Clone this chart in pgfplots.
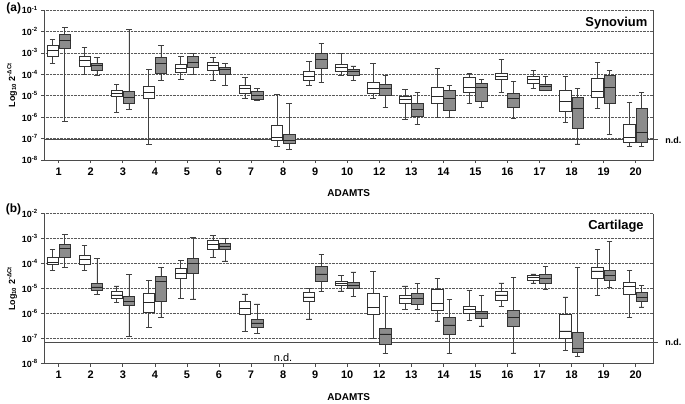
\documentclass[border=0pt]{standalone}
\usepackage{pgfplots}
\pgfplotsset{compat=1.18}
\usepgfplotslibrary{statistics}
\usepackage{fontspec}
\setmainfont{Liberation Sans}
\definecolor{boxgray}{RGB}{140,140,140}
\definecolor{framec}{RGB}{75,75,75}
\pgfplotsset{
  boxplot/draw direction=y,
  boxplot/box extend=0.36, boxplot/whisker extend=0.17,
  boxplot/every box/.style={draw=black!80, line width=0.7pt},
  boxplot/every whisker/.style={black!75, line width=0.7pt},
  boxplot/every median/.style={black!85, line width=0.9pt},
  wb/.style={draw=black!80, fill=white},
  gb/.style={draw=black!80, fill=boxgray},
}
\begin{document}
\begin{tikzpicture}
\useasboundingbox (-44.3bp,-244bp) rectangle (640.7bp,160bp);
% ---------------- panel (a): values are log10 of 2^-dCt
\begin{axis}[ymin=-8, ymax=-1,
    scale only axis, width=609bp, height=150bp,
    at={(0bp,0bp)}, anchor=south west,
    xmin=0.55, xmax=19.55,
    axis line style={draw=none},
    clip=false,
    xtick={1,...,19},
    xticklabels={1,2,3,4,5,6,7,8,9,10,12,13,14,15,16,17,18,19,20},
    xtick pos=bottom, ytick pos=left, tick align=outside,
    major tick length=3bp,
    tick style={framec, line width=0.7pt},
    x tick label style={font=\bfseries\fontsize{11}{12}\selectfont, yshift=-1bp},
    y tick label style={font=\bfseries\fontsize{9}{10}\selectfont},
    ymajorgrids, major grid style={densely dotted, black!65, line width=0.7pt},
    xlabel={ADAMTS}, xlabel style={font=\bfseries\fontsize{10}{12}\selectfont, at={(axis description cs:0.5,-0.22)}, anchor=center},
    ylabel={Log\textsubscript{10} 2\textsuperscript{-ΔCt}},
    ylabel style={font=\bfseries\fontsize{9}{10}\selectfont, at={(axis description cs:-0.053,0.5)}, anchor=center},
  ytick={-8,-7,-6,-5,-4,-3,-2,-1},
  yticklabels={10\textsuperscript{-8},10\textsuperscript{-7},10\textsuperscript{-6},10\textsuperscript{-5},10\textsuperscript{-4},10\textsuperscript{-3},10\textsuperscript{-2},10\textsuperscript{-1}}]
\draw[framec, line width=0.9pt] (axis cs:0.55,-7.06) -- (axis cs:19.7,-7.06);
\node[anchor=west, font=\bfseries\fontsize{9}{10}\selectfont] at (axis cs:19.82,-7.06) {n.d.};
\draw[framec, line width=1pt] (axis cs:0.55,-1) -- (axis cs:0.55,-8) -- (axis cs:19.55,-8) -- (axis cs:19.55,-1);
\addplot[wb, boxplot prepared={draw position=0.81, upper whisker=-2.37, upper quartile=-2.63, median=-2.87, lower quartile=-3.15, lower whisker=-3.49}] coordinates {};
\addplot[gb, boxplot prepared={draw position=1.19, upper whisker=-1.81, upper quartile=-2.14, median=-2.40, lower quartile=-2.79, lower whisker=-6.18}] coordinates {};
\addplot[wb, boxplot prepared={draw position=1.81, upper whisker=-2.76, upper quartile=-3.18, median=-3.36, lower quartile=-3.61, lower whisker=-4.02}] coordinates {};
\addplot[gb, boxplot prepared={draw position=2.19, upper whisker=-3.22, upper quartile=-3.49, median=-3.61, lower quartile=-3.83, lower whisker=-4.05}] coordinates {};
\addplot[wb, boxplot prepared={draw position=2.81, upper whisker=-4.47, upper quartile=-4.73, median=-4.90, lower quartile=-5.04, lower whisker=-5.77}] coordinates {};
\addplot[gb, boxplot prepared={draw position=3.19, upper whisker=-1.90, upper quartile=-4.81, median=-5.09, lower quartile=-5.34, lower whisker=-5.65}] coordinates {};
\addplot[wb, boxplot prepared={draw position=3.81, upper whisker=-3.77, upper quartile=-4.58, median=-4.84, lower quartile=-5.12, lower whisker=-7.27}] coordinates {};
\addplot[gb, boxplot prepared={draw position=4.19, upper whisker=-2.66, upper quartile=-3.21, median=-3.49, lower quartile=-3.95, lower whisker=-4.30}] coordinates {};
\addplot[wb, boxplot prepared={draw position=4.81, upper whisker=-3.18, upper quartile=-3.53, median=-3.75, lower quartile=-3.92, lower whisker=-4.22}] coordinates {};
\addplot[gb, boxplot prepared={draw position=5.19, upper whisker=-3.02, upper quartile=-3.18, median=-3.46, lower quartile=-3.67, lower whisker=-3.99}] coordinates {};
\addplot[wb, boxplot prepared={draw position=5.81, upper whisker=-3.22, upper quartile=-3.45, median=-3.60, lower quartile=-3.80, lower whisker=-4.28}] coordinates {};
\addplot[gb, boxplot prepared={draw position=6.19, upper whisker=-3.50, upper quartile=-3.66, median=-3.77, lower quartile=-3.99, lower whisker=-4.53}] coordinates {};
\addplot[wb, boxplot prepared={draw position=6.81, upper whisker=-4.14, upper quartile=-4.50, median=-4.67, lower quartile=-4.87, lower whisker=-5.14}] coordinates {};
\addplot[gb, boxplot prepared={draw position=7.19, upper whisker=-4.67, upper quartile=-4.81, median=-4.98, lower quartile=-5.18, lower whisker=-5.20}] coordinates {};
\addplot[wb, boxplot prepared={draw position=7.81, upper whisker=-4.93, upper quartile=-6.38, median=-6.94, lower quartile=-7.10, lower whisker=-7.35}] coordinates {};
\addplot[gb, boxplot prepared={draw position=8.19, upper whisker=-5.34, upper quartile=-6.79, median=-7.07, lower quartile=-7.24, lower whisker=-7.50}] coordinates {};
\addplot[wb, boxplot prepared={draw position=8.81, upper whisker=-3.40, upper quartile=-3.85, median=-4.08, lower quartile=-4.27, lower whisker=-4.53}] coordinates {};
\addplot[gb, boxplot prepared={draw position=9.19, upper whisker=-2.57, upper quartile=-3.04, median=-3.29, lower quartile=-3.72, lower whisker=-4.37}] coordinates {};
\addplot[wb, boxplot prepared={draw position=9.81, upper whisker=-3.02, upper quartile=-3.53, median=-3.69, lower quartile=-3.85, lower whisker=-4.06}] coordinates {};
\addplot[gb, boxplot prepared={draw position=10.19, upper whisker=-3.61, upper quartile=-3.78, median=-3.88, lower quartile=-4.03, lower whisker=-4.30}] coordinates {};
\addplot[wb, boxplot prepared={draw position=10.81, upper whisker=-3.49, upper quartile=-4.37, median=-4.65, lower quartile=-4.90, lower whisker=-5.12}] coordinates {};
\addplot[gb, boxplot prepared={draw position=11.19, upper whisker=-4.05, upper quartile=-4.47, median=-4.65, lower quartile=-5.00, lower whisker=-5.53}] coordinates {};
\addplot[wb, boxplot prepared={draw position=11.81, upper whisker=-4.70, upper quartile=-5.04, median=-5.17, lower quartile=-5.37, lower whisker=-6.09}] coordinates {};
\addplot[gb, boxplot prepared={draw position=12.19, upper whisker=-4.83, upper quartile=-5.34, median=-5.62, lower quartile=-5.95, lower whisker=-6.35}] coordinates {};
\addplot[wb, boxplot prepared={draw position=12.81, upper whisker=-3.72, upper quartile=-4.62, median=-5.04, lower quartile=-5.35, lower whisker=-6.02}] coordinates {};
\addplot[gb, boxplot prepared={draw position=13.19, upper whisker=-4.53, upper quartile=-4.73, median=-5.12, lower quartile=-5.67, lower whisker=-6.01}] coordinates {};
\addplot[wb, boxplot prepared={draw position=13.81, upper whisker=-3.97, upper quartile=-4.16, median=-4.61, lower quartile=-4.84, lower whisker=-5.35}] coordinates {};
\addplot[gb, boxplot prepared={draw position=14.19, upper whisker=-4.22, upper quartile=-4.42, median=-4.61, lower quartile=-5.25, lower whisker=-5.56}] coordinates {};
\addplot[wb, boxplot prepared={draw position=14.81, upper whisker=-3.32, upper quartile=-3.95, median=-4.08, lower quartile=-4.25, lower whisker=-4.84}] coordinates {};
\addplot[gb, boxplot prepared={draw position=15.19, upper whisker=-4.33, upper quartile=-4.90, median=-5.15, lower quartile=-5.54, lower whisker=-6.04}] coordinates {};
\addplot[wb, boxplot prepared={draw position=15.81, upper whisker=-3.80, upper quartile=-4.08, median=-4.23, lower quartile=-4.41, lower whisker=-4.65}] coordinates {};
\addplot[gb, boxplot prepared={draw position=16.19, upper whisker=-4.11, upper quartile=-4.47, median=-4.58, lower quartile=-4.73, lower whisker=-4.74}] coordinates {};
\addplot[wb, boxplot prepared={draw position=16.81, upper whisker=-4.11, upper quartile=-4.75, median=-5.25, lower quartile=-5.73, lower whisker=-6.23}] coordinates {};
\addplot[gb, boxplot prepared={draw position=17.19, upper whisker=-4.67, upper quartile=-5.07, median=-5.59, lower quartile=-6.51, lower whisker=-7.25}] coordinates {};
\addplot[wb, boxplot prepared={draw position=17.81, upper whisker=-3.46, upper quartile=-4.19, median=-4.79, lower quartile=-5.07, lower whisker=-5.59}] coordinates {};
\addplot[gb, boxplot prepared={draw position=18.19, upper whisker=-3.80, upper quartile=-4.05, median=-4.62, lower quartile=-5.35, lower whisker=-6.80}] coordinates {};
\addplot[wb, boxplot prepared={draw position=18.81, upper whisker=-5.32, upper quartile=-6.33, median=-6.97, lower quartile=-7.17, lower whisker=-7.35}] coordinates {};
\addplot[gb, boxplot prepared={draw position=19.19, upper whisker=-4.84, upper quartile=-5.59, median=-6.72, lower quartile=-7.17, lower whisker=-7.35}] coordinates {};
\node[anchor=east, font=\bfseries\fontsize{13}{14}\selectfont] at (axis description cs:0.996,0.913) {Synovium};
\node[anchor=west, font=\bfseries\fontsize{12}{14}\selectfont] at (axis description cs:-0.068,1.013) {(a)};
\end{axis}
% ---------------- panel (b): values are log10 of 2^-dCt
\begin{axis}[ymin=-8, ymax=-2,
    scale only axis, width=609bp, height=150bp,
    at={(0bp,-203.7bp)}, anchor=south west,
    xmin=0.55, xmax=19.55,
    axis line style={draw=none},
    clip=false,
    xtick={1,...,19},
    xticklabels={1,2,3,4,5,6,7,8,9,10,12,13,14,15,16,17,18,19,20},
    xtick pos=bottom, ytick pos=left, tick align=outside,
    major tick length=3bp,
    tick style={framec, line width=0.7pt},
    x tick label style={font=\bfseries\fontsize{11}{12}\selectfont, yshift=-1bp},
    y tick label style={font=\bfseries\fontsize{9}{10}\selectfont},
    ymajorgrids, major grid style={densely dotted, black!65, line width=0.7pt},
    xlabel={ADAMTS}, xlabel style={font=\bfseries\fontsize{10}{12}\selectfont, at={(axis description cs:0.5,-0.22)}, anchor=center},
    ylabel={Log\textsubscript{10} 2\textsuperscript{-ΔCt}},
    ylabel style={font=\bfseries\fontsize{9}{10}\selectfont, at={(axis description cs:-0.053,0.5)}, anchor=center},
  ytick={-8,-7,-6,-5,-4,-3,-2},
  yticklabels={10\textsuperscript{-8},10\textsuperscript{-7},10\textsuperscript{-6},10\textsuperscript{-5},10\textsuperscript{-4},10\textsuperscript{-3},10\textsuperscript{-2}}]
\draw[framec, line width=0.9pt] (axis cs:0.55,-7.16) -- (axis cs:19.7,-7.16);
\node[anchor=west, font=\bfseries\fontsize{9}{10}\selectfont] at (axis cs:19.82,-7.16) {n.d.};
\node[font=\fontsize{11}{12}\selectfont] at (axis cs:8,-7.75) {n.d.};
\draw[framec, line width=1pt] (axis cs:0.55,-2) -- (axis cs:0.55,-8) -- (axis cs:19.55,-8) -- (axis cs:19.55,-2);
\addplot[wb, boxplot prepared={draw position=0.81, upper whisker=-3.42, upper quartile=-3.74, median=-3.96, lower quartile=-4.02, lower whisker=-4.27}] coordinates {};
\addplot[gb, boxplot prepared={draw position=1.19, upper whisker=-2.83, upper quartile=-3.22, median=-3.38, lower quartile=-3.75, lower whisker=-4.14}] coordinates {};
\addplot[wb, boxplot prepared={draw position=1.81, upper whisker=-3.26, upper quartile=-3.66, median=-3.84, lower quartile=-4.02, lower whisker=-4.27}] coordinates {};
\addplot[gb, boxplot prepared={draw position=2.19, upper whisker=-3.79, upper quartile=-4.79, median=-4.93, lower quartile=-5.06, lower whisker=-5.22}] coordinates {};
\addplot[wb, boxplot prepared={draw position=2.81, upper whisker=-4.89, upper quartile=-5.10, median=-5.25, lower quartile=-5.40, lower whisker=-5.56}] coordinates {};
\addplot[gb, boxplot prepared={draw position=3.19, upper whisker=-4.42, upper quartile=-5.30, median=-5.52, lower quartile=-5.68, lower whisker=-6.92}] coordinates {};
\addplot[wb, boxplot prepared={draw position=3.81, upper whisker=-4.66, upper quartile=-5.18, median=-5.54, lower quartile=-5.94, lower whisker=-6.55}] coordinates {};
\addplot[gb, boxplot prepared={draw position=4.19, upper whisker=-4.14, upper quartile=-4.50, median=-4.71, lower quartile=-5.52, lower whisker=-6.14}] coordinates {};
\addplot[wb, boxplot prepared={draw position=4.81, upper whisker=-3.86, upper quartile=-4.19, median=-4.38, lower quartile=-4.58, lower whisker=-5.38}] coordinates {};
\addplot[gb, boxplot prepared={draw position=5.19, upper whisker=-2.95, upper quartile=-3.78, median=-3.98, lower quartile=-4.38, lower whisker=-5.41}] coordinates {};
\addplot[wb, boxplot prepared={draw position=5.81, upper whisker=-2.88, upper quartile=-3.06, median=-3.22, lower quartile=-3.42, lower whisker=-3.76}] coordinates {};
\addplot[gb, boxplot prepared={draw position=6.19, upper whisker=-2.99, upper quartile=-3.19, median=-3.30, lower quartile=-3.44, lower whisker=-3.89}] coordinates {};
\addplot[wb, boxplot prepared={draw position=6.81, upper whisker=-5.21, upper quartile=-5.52, median=-5.80, lower quartile=-6.03, lower whisker=-6.71}] coordinates {};
\addplot[gb, boxplot prepared={draw position=7.19, upper whisker=-5.61, upper quartile=-6.22, median=-6.37, lower quartile=-6.53, lower whisker=-6.79}] coordinates {};
\addplot[wb, boxplot prepared={draw position=8.81, upper whisker=-5.00, upper quartile=-5.14, median=-5.33, lower quartile=-5.50, lower whisker=-6.21}] coordinates {};
\addplot[gb, boxplot prepared={draw position=9.19, upper whisker=-3.63, upper quartile=-4.09, median=-4.41, lower quartile=-4.69, lower whisker=-5.11}] coordinates {};
\addplot[wb, boxplot prepared={draw position=9.81, upper whisker=-4.47, upper quartile=-4.70, median=-4.79, lower quartile=-4.87, lower whisker=-5.09}] coordinates {};
\addplot[gb, boxplot prepared={draw position=10.19, upper whisker=-4.33, upper quartile=-4.75, median=-4.87, lower quartile=-4.98, lower whisker=-5.30}] coordinates {};
\addplot[wb, boxplot prepared={draw position=10.81, upper whisker=-4.30, upper quartile=-5.18, median=-5.76, lower quartile=-6.01, lower whisker=-6.99}] coordinates {};
\addplot[gb, boxplot prepared={draw position=11.19, upper whisker=-5.30, upper quartile=-6.57, median=-6.81, lower quartile=-7.21, lower whisker=-7.59}] coordinates {};
\addplot[wb, boxplot prepared={draw position=11.81, upper whisker=-4.89, upper quartile=-5.26, median=-5.38, lower quartile=-5.57, lower whisker=-5.82}] coordinates {};
\addplot[gb, boxplot prepared={draw position=12.19, upper whisker=-4.79, upper quartile=-5.17, median=-5.38, lower quartile=-5.62, lower whisker=-5.82}] coordinates {};
\addplot[wb, boxplot prepared={draw position=12.81, upper whisker=-4.58, upper quartile=-5.02, median=-5.60, lower quartile=-5.85, lower whisker=-6.29}] coordinates {};
\addplot[gb, boxplot prepared={draw position=13.19, upper whisker=-5.42, upper quartile=-6.16, median=-6.45, lower quartile=-6.83, lower whisker=-7.59}] coordinates {};
\addplot[wb, boxplot prepared={draw position=13.81, upper whisker=-5.07, upper quartile=-5.70, median=-5.84, lower quartile=-5.98, lower whisker=-6.26}] coordinates {};
\addplot[gb, boxplot prepared={draw position=14.19, upper whisker=-5.26, upper quartile=-5.89, median=-5.97, lower quartile=-6.17, lower whisker=-6.49}] coordinates {};
\addplot[wb, boxplot prepared={draw position=14.81, upper whisker=-4.77, upper quartile=-5.10, median=-5.25, lower quartile=-5.48, lower whisker=-5.72}] coordinates {};
\addplot[gb, boxplot prepared={draw position=15.19, upper whisker=-4.55, upper quartile=-5.86, median=-6.16, lower quartile=-6.51, lower whisker=-7.57}] coordinates {};
\addplot[wb, boxplot prepared={draw position=15.81, upper whisker=-4.41, upper quartile=-4.45, median=-4.54, lower quartile=-4.67, lower whisker=-4.77}] coordinates {};
\addplot[gb, boxplot prepared={draw position=16.19, upper whisker=-4.10, upper quartile=-4.42, median=-4.58, lower quartile=-4.78, lower whisker=-5.01}] coordinates {};
\addplot[wb, boxplot prepared={draw position=16.81, upper whisker=-5.33, upper quartile=-6.01, median=-6.69, lower quartile=-6.99, lower whisker=-7.47}] coordinates {};
\addplot[gb, boxplot prepared={draw position=17.19, upper whisker=-4.14, upper quartile=-6.75, median=-7.39, lower quartile=-7.56, lower whisker=-7.70}] coordinates {};
\addplot[wb, boxplot prepared={draw position=17.81, upper whisker=-3.44, upper quartile=-4.14, median=-4.29, lower quartile=-4.57, lower whisker=-5.28}] coordinates {};
\addplot[gb, boxplot prepared={draw position=18.19, upper whisker=-3.10, upper quartile=-4.27, median=-4.47, lower quartile=-4.65, lower whisker=-4.95}] coordinates {};
\addplot[wb, boxplot prepared={draw position=18.81, upper whisker=-4.26, upper quartile=-4.75, median=-4.91, lower quartile=-5.22, lower whisker=-6.14}] coordinates {};
\addplot[gb, boxplot prepared={draw position=19.19, upper whisker=-4.86, upper quartile=-5.14, median=-5.36, lower quartile=-5.52, lower whisker=-5.73}] coordinates {};
\node[anchor=east, font=\bfseries\fontsize{13}{14}\selectfont] at (axis description cs:0.99,0.915) {Cartilage};
\node[anchor=west, font=\bfseries\fontsize{12}{14}\selectfont] at (axis description cs:-0.069,1.027) {(b)};
\end{axis}
\end{tikzpicture}
\end{document}
